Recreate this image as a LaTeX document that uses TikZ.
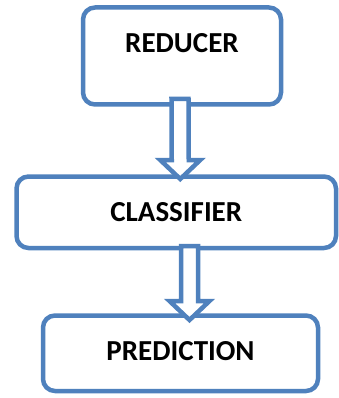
\documentclass[tikz,border=0pt]{standalone}
\usepackage{fontspec}
\setmainfont{Carlito}
\usetikzlibrary{calc}
\definecolor{boxblue}{HTML}{4F81BD}

\begin{document}
\begin{tikzpicture}[
        x = 1pt, y = 1pt, % one unit per pixel
        line join = miter,
        blockarrow/.style = {
            draw = boxblue,
            line width = 4.5pt,
            fill = white,
            to path = {
                ($(\tikztostart)+(-8.5pt,0)$) -- ($(\tikztotarget)+(-8.5pt,19pt)$)
                -- ++(-11.5pt,0) -- (\tikztotarget) -- ++(20pt,19pt) -- ++(-11.5pt,0)
                -- ($(\tikztostart)+(8.5pt,0)$) -- cycle
            }
        }
    ]

    \tikzstyle{stage}=[
        draw = boxblue,
        line width = 4.5pt,
        rounded corners = 12pt,
        fill = white,
        inner sep = 0pt,
        text height = 19pt,
        font = \fontsize{29pt}{34pt}\selectfont\bfseries
    ]

    \useasboundingbox (0,0) rectangle (339,-398);

    \node[stage, minimum width=198pt, minimum height=97pt, text depth=26pt] (reducer) at (182,-56) {REDUCER};
    \node[stage, minimum width=319.5pt, minimum height=71.5pt, text depth=0pt] (classifier) at (176.25,-212.25) {CLASSIFIER};
    \node[stage, minimum width=275pt, minimum height=75.5pt, text depth=5pt] (prediction) at (180.5,-353.25) {PREDICTION};

    % hollow arrows between the stages
    \draw[blockarrow] ([xshift=-2pt,yshift=7.75pt]reducer.south) to ([xshift=4pt,yshift=-4.75pt]classifier.north);
    \draw[blockarrow] ([xshift=13.25pt,yshift=4.25pt]classifier.south) to ([xshift=9pt,yshift=-6.75pt]prediction.north);
\end{tikzpicture}
\end{document}
